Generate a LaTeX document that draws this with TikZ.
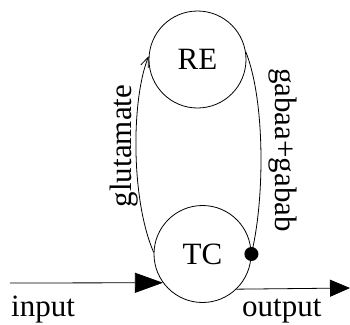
\documentclass[tikz,border=0pt]{standalone}
\usepackage{fontspec}
\setmainfont{Liberation Serif}
\usetikzlibrary{arrows.meta}
\begin{document}
\begin{tikzpicture}[x=1pt,y=-1pt,
  cell/.style={draw,circle,minimum size=97pt,inner sep=0pt,font=\fontsize{31}{33}\selectfont,line width=0.8pt},
  lbl/.style={font=\fontsize{31}{33}\selectfont,inner sep=0pt},
  edge/.style={line width=0.8pt}]
\useasboundingbox (0,0) rectangle (350,324);
\node[cell] (RE) at (197.5,59.5) {RE};
\node[cell] (TC) at (202.5,254) {TC};
\coordinate (inS) at (10,283);
\coordinate (outE) at (350,288);
\draw[edge,-{Straight Barb[length=10pt,width=8pt]}] (TC.178) .. controls (131,200) and (131,100) .. (RE.176);
\draw[edge] (RE.9) .. controls (265,100) and (265,198) .. (TC.0);
\fill (TC.0) circle (7);
\draw[edge,-{Triangle[length=28pt,width=20pt]}] (inS) -- (TC.216);
\draw[edge,-{Triangle[length=20pt,width=17pt]}] (TC.-46) -- (outE);
\node[lbl,rotate=90] (glu) at (124,146) {glutamate};
\node[lbl,rotate=-90] (gab) at (283,150) {gabaa+gabab};
\node[lbl,anchor=base west] (inp) at (11,316) {input};
\node[lbl,anchor=base west] (outp) at (242,316) {output};
\end{tikzpicture}
\end{document}
